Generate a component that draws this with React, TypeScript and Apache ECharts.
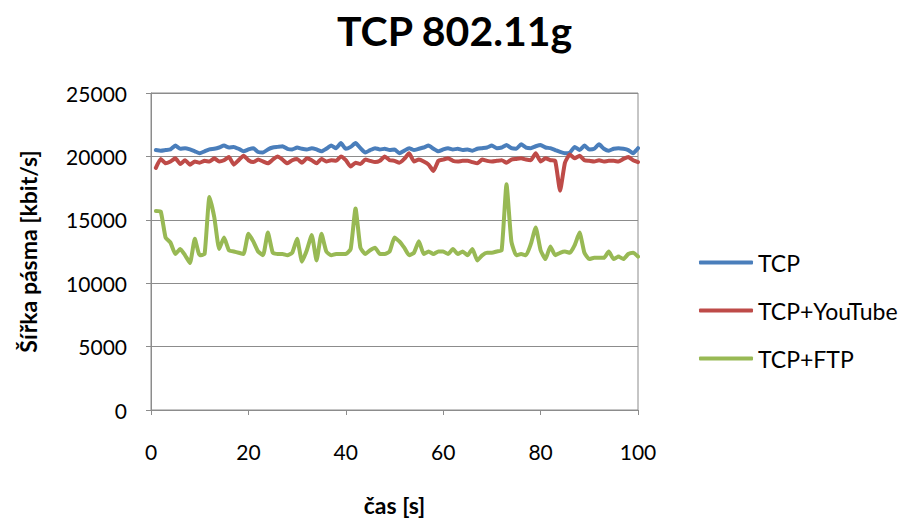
import React, { useEffect, useRef } from "react";
import * as echarts from "echarts";

const seconds: number[] = Array.from({ length: 100 }, (_, i) => i + 1);

const tcp: number[] = [
  20500, 20450, 20500, 20550, 20850, 20600, 20650, 20550, 20400, 20250,
  20400, 20550, 20600, 20700, 20850, 20700, 20750, 20600, 20400, 20550,
  20650, 20350, 20300, 20550, 20700, 20750, 20800, 20600, 20550, 20700,
  20600, 20550, 20650, 20550, 20400, 20600, 20850, 20650, 21050, 20600,
  20750, 21050, 20650, 20300, 20500, 20650, 20550, 20600, 20500, 20550,
  20250, 20450, 20650, 20500, 20600, 20700, 20850, 20600, 20400, 20550,
  20650, 20550, 20600, 20500, 20550, 20450, 20600, 20650, 20700, 20850,
  20650, 20700, 20900, 20650, 20600, 20950, 20700, 20650, 20800, 20900,
  20700, 20650, 20500, 20350, 20250, 20300, 20750, 20500, 20850, 20550,
  20600, 20950, 20600, 20450, 20600, 20650, 20600, 20500, 20250, 20650,
];

const tcpYoutube: number[] = [
  19100, 19800, 19450, 19600, 19850, 19400, 19700, 19350, 19600, 19500,
  19650, 19600, 19850, 19600, 19700, 19950, 19350, 19700, 20050, 19700,
  19550, 19750, 19600, 19450, 19750, 20000, 19750, 19450, 19700, 19800,
  19500, 19850, 19700, 19450, 19800, 19600, 19700, 19650, 20000, 19700,
  19200, 19500, 19400, 19750, 19650, 19550, 19650, 20000, 19700, 19650,
  19500, 19800, 20250, 19600, 19750, 19600, 19350, 18850, 19650, 19750,
  19850, 19650, 19600, 19650, 19650, 19550, 19450, 19750, 19650, 19600,
  19650, 19700, 19500, 19750, 19800, 19850, 19750, 19700, 20250, 19600,
  19850, 19700, 19650, 17300, 19500, 20150, 19850, 20050, 19700, 19650,
  19600, 19700, 19600, 19650, 19650, 19600, 19800, 19950, 19700, 19550,
];

const tcpFtp: number[] = [
  15700, 15650, 13600, 13200, 12300, 12700, 12200, 11600, 13500, 12200,
  12300, 16800, 15200, 12700, 13600, 12600, 12500, 12400, 12300, 13900,
  13300, 12500, 12200, 14000, 12400, 12300, 12300, 12200, 12400, 13500,
  11700, 12600, 13800, 11800, 13900, 12500, 12200, 12300, 12300, 12300,
  12700, 15900, 12800, 12300, 12600, 12800, 12300, 12300, 12500, 13600,
  13300, 12800, 12200, 12400, 13300, 12300, 12500, 12300, 12500, 12500,
  12300, 12700, 12300, 12500, 12200, 12700, 11800, 12200, 12400, 12400,
  12500, 12600, 17800, 13300, 12200, 12300, 12200, 13100, 14400, 12600,
  11900, 12900, 12200, 12400, 12500, 12400, 13000, 14000, 12400, 11900,
  12000, 12000, 12000, 12500, 11900, 12100, 11900, 12300, 12400, 12100,
];

const seriesNames = ["TCP", "TCP+YouTube", "TCP+FTP"];
const seriesColors = ["#4A7EBB", "#BE4B48", "#98B954"];
const seriesData = [tcp, tcpYoutube, tcpFtp];

const FONT = "Lato, 'Open Sans', sans-serif";

export default function App() {
  const ref = useRef<HTMLDivElement>(null);
  useEffect(() => {
    if (!ref.current) return;
    const chart = echarts.init(ref.current, undefined, { renderer: "svg" });
    chart.setOption({
      animation: false,
      backgroundColor: "#ffffff",
      textStyle: { fontFamily: FONT },
      title: {
        text: "TCP 802.11g",
        left: "center",
        top: 5,
        textStyle: { fontFamily: FONT, fontSize: 41, fontWeight: "bold", color: "#000" },
      },
      legend: {
        orient: "vertical",
        left: 699,
        top: 251,
        padding: 0,
        itemWidth: 54,
        itemHeight: 4,
        itemGap: 25,
        icon: "roundRect",
        data: seriesNames,
        textStyle: { fontFamily: FONT, fontSize: 23, color: "#000", lineHeight: 23 },
      },
      grid: {
        left: 151,
        right: 271,
        top: 93,
        bottom: 108,
        show: true,
        borderColor: "#8c8c8c",
        borderWidth: 1,
        containLabel: false,
      },
      xAxis: {
        type: "value",
        min: 0,
        max: 100,
        interval: 20,
        name: "čas [s]",
        nameLocation: "middle",
        nameGap: 83,
        nameTextStyle: { fontFamily: FONT, fontSize: 23, fontWeight: "bold", color: "#000" },
        axisLine: { show: true, lineStyle: { color: "#8c8c8c", width: 1 } },
        axisTick: { show: true, length: 5, lineStyle: { color: "#8c8c8c" } },
        axisLabel: { margin: 31, fontFamily: FONT, fontSize: 21, color: "#000" },
        splitLine: { show: false },
      },
      yAxis: {
        type: "value",
        min: 0,
        max: 25000,
        interval: 5000,
        name: "Šířka pásma [kbit/s]",
        nameLocation: "middle",
        nameGap: 112,
        nameTextStyle: { fontFamily: FONT, fontSize: 23, fontWeight: "bold", color: "#000" },
        axisLine: { show: true, lineStyle: { color: "#8c8c8c", width: 1 } },
        axisTick: { show: true, length: 5, lineStyle: { color: "#8c8c8c" } },
        axisLabel: {
          margin: 24,
          fontFamily: FONT,
          fontSize: 21,
          color: "#000",
          formatter: (v: number) => String(v),
        },
        splitLine: { show: true, lineStyle: { color: "#8c8c8c", width: 1 } },
      },
      series: seriesNames.map((name, i) => ({
        name,
        type: "line",
        data: seriesData[i].map((v, j) => [seconds[j], v]),
        showSymbol: false,
        symbol: "none",
        smooth: 0.15,
        color: seriesColors[i],
        lineStyle: { width: 4, color: seriesColors[i], join: "round", cap: "round" },
      })),
    });
    return () => chart.dispose();
  }, []);
  return (
    <div
      ref={ref}
      style={{ position: "fixed", left: 0, top: 0, width: 909, height: 521 }}
    />
  );
}
